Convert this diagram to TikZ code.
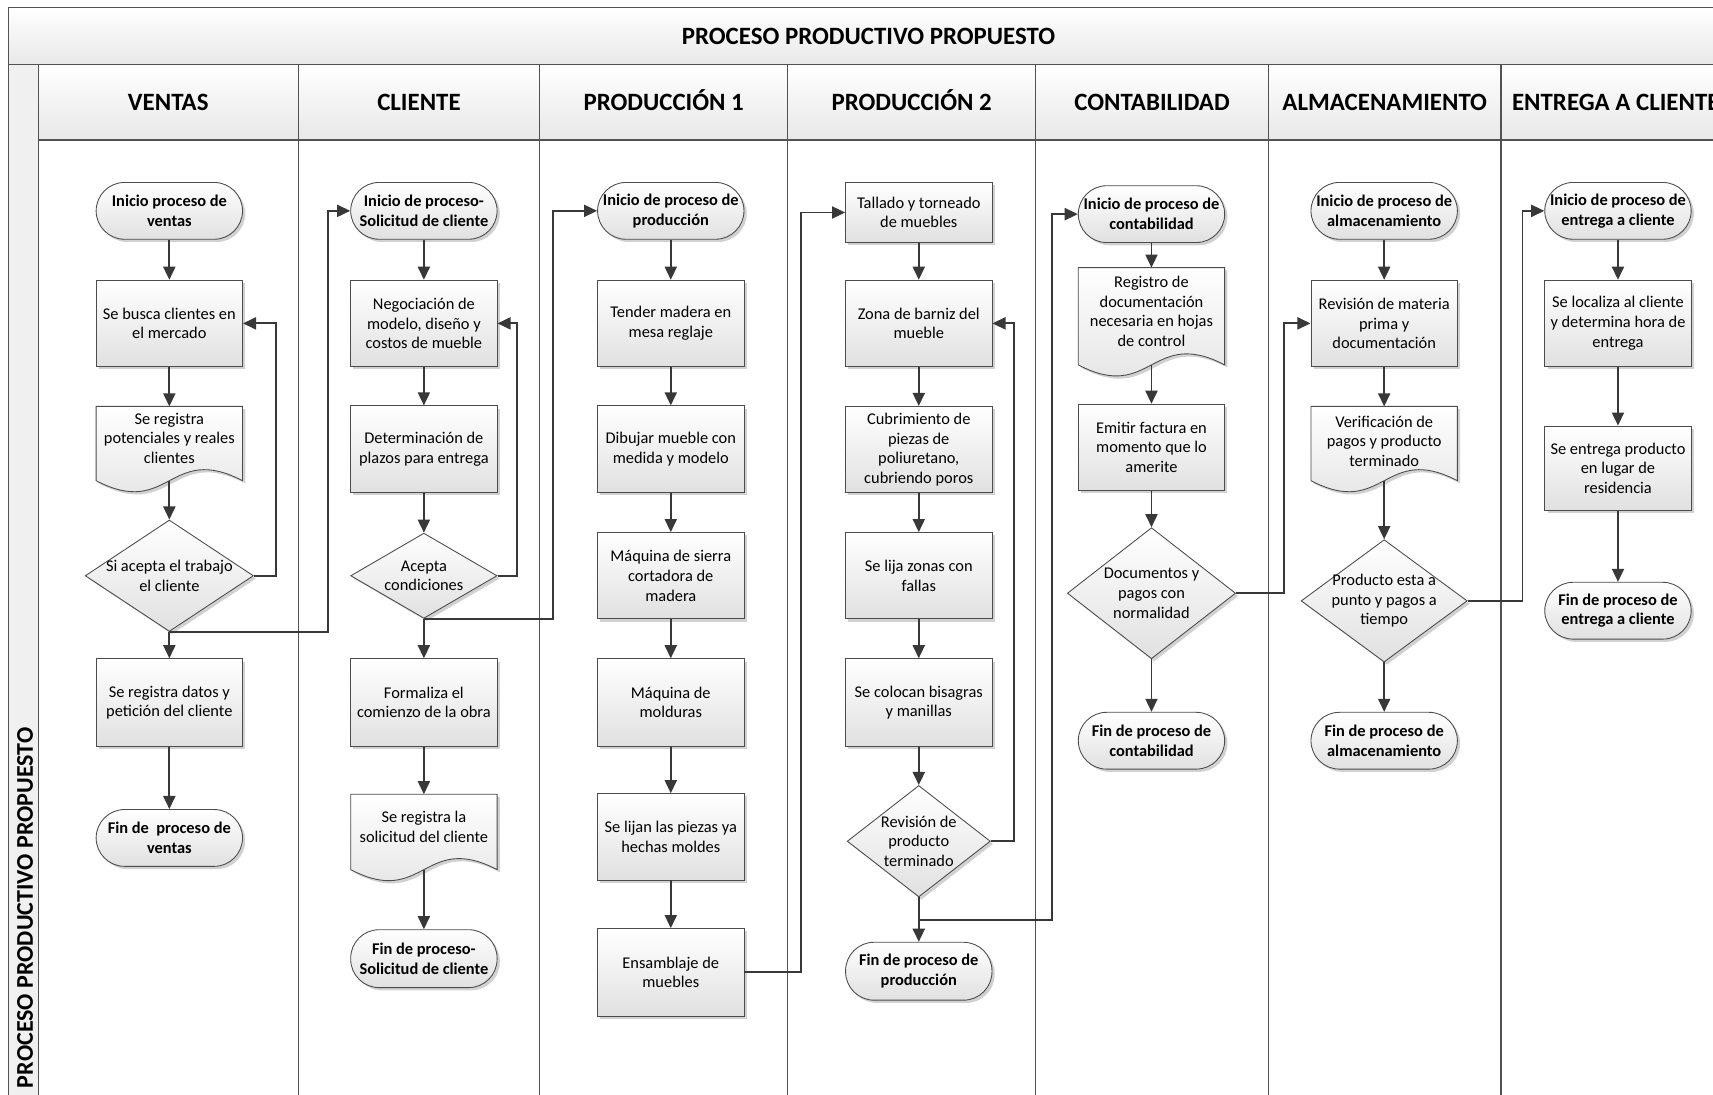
\documentclass[tikz,border=0pt]{standalone}
\usepackage{fontspec}
\setmainfont{Carlito}
\usetikzlibrary{shapes.geometric,arrows.meta,shadows,calc}

\tikzset{
  boxfill/.style={draw=black!70, line width=0.8pt, top color=white, bottom color=black!12,
    drop shadow={shadow xshift=2.5pt, shadow yshift=-2.5pt, fill=black, opacity=0.18}},
  txt/.style={font=\fontsize{15}{18}\selectfont, align=center},
  proc/.style={boxfill, txt, rectangle, minimum width=134pt, minimum height=79pt, inner sep=0pt},
  term/.style={boxfill, txt, rectangle, rounded corners=26pt, minimum width=134pt,
    minimum height=52pt, inner sep=0pt, font=\fontsize{15}{18}\selectfont\bfseries},
  dec/.style={boxfill, diamond, inner sep=0pt},
  doc/.style={rectangle, minimum width=134pt, inner sep=0pt, outer sep=0pt},
  lbl/.style={txt, inner sep=0pt},
  conn/.style={draw=black!78, line width=1.8pt, -{Triangle[length=12pt,width=11pt]}},
  wire/.style={draw=black!78, line width=1.8pt},
  frame/.style={draw=black!68, line width=1.3pt},
  band/.style={top color=white, bottom color=black!9},
  hdr/.style={font=\fontsize{22.8}{27}\selectfont\bfseries, anchor=base},
}
% document symbol: box with a wavy lower edge (centre x, top y, base y)
\newcommand\docshape[3]{\path[boxfill] (#1-67,#2) -- (#1+67,#2) -- (#1+67,#3)
  .. controls (#1,#3-35) and (#1,#3+35) .. (#1-67,#3) -- cycle;}

\begin{document}
\begin{tikzpicture}[x=1pt, y=-1pt]
\useasboundingbox (0,0) rectangle (1568,1002);
\clip (0,0) rectangle (1568,1002);
\fill[white] (0,0) rectangle (1568,1002);

% pool frame, title band, lane headers
\path[band] (8,7) rectangle (1582,59);
\path[band] (35,59) rectangle (1582,128);
\fill[black!6] (8,59) rectangle (35,1120);
\draw[frame] (1582,7) -- (8,7) -- (8,1120);
\draw[frame] (8,59) -- (1582,59);
\draw[frame] (35,59) -- (35,1120);
\draw[frame] (35,128) -- (1582,128);
\foreach \lx in {273,494,721,948,1161,1374} \draw[frame] (\lx,59) -- (\lx,1120);

\node[hdr] (title) at (795,40.5) {PROCESO PRODUCTIVO PROPUESTO};
\node[hdr, rotate=90, font=\fontsize{22}{26}\selectfont\bfseries] (side) at (30,831) {PROCESO PRODUCTIVO PROPUESTO};
\node[hdr] (h1) at (154,101) {VENTAS};
\node[hdr] (h2) at (383.5,101) {CLIENTE};
\node[hdr] (h3) at (607.5,101) {PRODUCCIÓN 1};
\node[hdr] (h4) at (834.5,101) {PRODUCCIÓN 2};
\node[hdr] (h5) at (1054.5,101) {CONTABILIDAD};
\node[hdr] (h6) at (1267.5,101) {ALMACENAMIENTO};
\node[hdr] (h7) at (1479,101) {ENTREGA A CLIENTE};

% ---- VENTAS
\node[term] (vi) at (155,193) {Inicio proceso de\\ventas};
\node[proc] (vb) at (155,296) {Se busca clientes en\\el mercado};
\docshape{155}{372}{440}
\node[doc, minimum height=68pt, label={[lbl,yshift=5pt]center:{Se registra\\potenciales y reales\\clientes}}] (vd) at (155,406) {};
\node[dec, minimum width=154pt, minimum height=102pt, label={[lbl]center:{Si acepta el trabajo\\el cliente}}] (vx) at (155,527) {};
\node[proc, minimum height=80pt] (vr) at (155,643) {Se registra datos y\\petición del cliente};
\node[term] (vf) at (155,767) {Fin de~ proceso de\\ventas};

% ---- CLIENTE
\node[term] (ci) at (388,193) {Inicio de proceso-\\Solicitud de cliente};
\node[proc] (cn) at (388,296) {Negociación de\\modelo, diseño y\\costos de mueble};
\node[proc] (cd) at (388,411) {Determinación de\\plazos para entrega};
\node[dec, minimum width=134pt, minimum height=78pt, label={[lbl]center:{Acepta\\condiciones}}] (cx) at (388,527) {};
\node[proc, minimum height=80pt] (cf) at (388,643) {Formaliza el\\comienzo de la obra};
\docshape{388}{727}{796}
\node[doc, minimum height=69pt, label={[lbl,yshift=4.5pt]center:{Se registra la\\solicitud del cliente}}] (cr) at (388,761.5) {};
\node[term, minimum height=53pt] (ce) at (388,877.5) {Fin de proceso-\\Solicitud de cliente};

% ---- PRODUCCION 1
\node[term] (p1i) at (614,193) {Inicio de proceso de\\producción};
\node[proc] (p1a) at (614,296) {Tender madera en\\mesa reglaje};
\node[proc] (p1b) at (614,411) {Dibujar mueble con\\medida y modelo};
\node[proc] (p1c) at (614,527) {Máquina de sierra\\cortadora de\\madera};
\node[proc, minimum height=80pt] (p1d) at (614,643) {Máquina de\\molduras};
\node[proc] (p1e) at (614,766) {Se lijan las piezas ya\\hechas moldes};
\node[proc, minimum height=80pt] (p1f) at (614,890) {Ensamblaje de\\muebles};

% ---- PRODUCCION 2
\node[proc, minimum height=55pt] (p2a) at (841,194.5) {Tallado y torneado\\de muebles};
\node[proc] (p2b) at (841,296) {Zona de barniz del\\mueble};
\node[proc] (p2c) at (841,411.5) {Cubrimiento de\\piezas de\\poliuretano,\\cubriendo poros};
\node[proc] (p2d) at (841,527) {Se lija zonas con\\fallas};
\node[proc, minimum height=80pt] (p2e) at (841,643) {Se colocan bisagras\\y manillas};
\node[dec, minimum width=131pt, minimum height=102pt, label={[lbl]center:{Revisión de\\producto\\terminado}}] (p2x) at (841,770) {};
\node[term, minimum height=53pt] (p2f) at (841,889) {Fin de proceso de\\producción};

% ---- CONTABILIDAD
\node[term] (ki) at (1054,196) {Inicio de proceso de\\contabilidad};
\docshape{1054}{245}{334}
\node[doc, minimum height=89pt, label={[lbl,yshift=4.5pt]center:{Registro de\\documentación\\necesaria en hojas\\de control}}] (kd) at (1054,289.5) {};
\node[proc] (kf) at (1054,409.5) {Emitir factura en\\momento que lo\\amerite};
\node[dec, minimum width=154pt, minimum height=120pt, label={[lbl]center:{Documentos y\\pagos con\\normalidad}}] (kx) at (1054,543) {};
\node[term] (kz) at (1054,678) {Fin de proceso de\\contabilidad};

% ---- ALMACENAMIENTO
\node[term] (ai) at (1267,193) {Inicio de proceso de\\almacenamiento};
\node[proc] (ab) at (1267,296) {Revisión de materia\\prima y\\documentación};
\docshape{1267}{372}{440}
\node[doc, minimum height=68pt, label={[lbl,yshift=2pt]center:{Verificación de\\pagos y producto\\terminado}}] (ad) at (1267,406) {};
\node[dec, minimum width=152pt, minimum height=112pt, label={[lbl]center:{Producto esta a\\punto y pagos a\\tiempo}}] (ax) at (1267,550) {};
\node[term] (az) at (1267,678) {Fin de proceso de\\almacenamiento};

% ---- ENTREGA A CLIENTE
\node[term] (ei) at (1481,193) {Inicio de proceso de\\entrega a cliente};
\node[proc] (eb) at (1481,296) {Se localiza al cliente\\y determina hora de\\entrega};
\node[proc, minimum height=77pt] (ec) at (1481,428.5) {Se entrega producto\\en lugar de\\residencia};
\node[term] (ez) at (1481,559) {Fin de proceso de\\entrega a cliente};

% ---- flow inside each lane
\draw[conn] (vi) -- (vb);
\draw[conn] (vb) -- (vd);
\draw[conn] (vd) -- (vx);
\draw[conn] (vx) -- (vr);
\draw[conn] (vr) -- (vf);
\draw[conn] (vx.east) -- ++(20,0) |- (vb.east);

\draw[conn] (ci) -- (cn);
\draw[conn] (cn) -- (cd);
\draw[conn] (cd) -- (cx);
\draw[conn] (cx) -- (cf);
\draw[conn] (cf) -- (cr);
\draw[conn] (cr) -- (ce);
\draw[conn] (cx.east) -- ++(18,0) |- (cn.east);

\draw[conn] (p1i) -- (p1a);
\draw[conn] (p1a) -- (p1b);
\draw[conn] (p1b) -- (p1c);
\draw[conn] (p1c) -- (p1d);
\draw[conn] (p1d) -- (p1e);
\draw[conn] (p1e) -- (p1f);

\draw[conn] (p2a) -- (p2b);
\draw[conn] (p2b) -- (p2c);
\draw[conn] (p2c) -- (p2d);
\draw[conn] (p2d) -- (p2e);
\draw[conn] (p2e) -- (p2x);
\draw[conn] (p2x) -- (p2f);
\draw[conn] (p2x.east) -- ++(21,0) |- (p2b.east);

\draw[conn] (ki) -- (kd);
\draw[conn] (kd) -- (kf);
\draw[conn] (kf) -- (kx);
\draw[conn] (kx) -- (kz);

\draw[conn] (ai) -- (ab);
\draw[conn] (ab) -- (ad);
\draw[conn] (ad) -- (ax);
\draw[conn] (ax) -- (az);

\draw[conn] (ei) -- (eb);
\draw[conn] (eb) -- (ec);
\draw[conn] (ec) -- (ez);

% ---- hand-offs between lanes
\draw[conn] (vx.south) -| ($(ci.west)+(-20,0)$) -- (ci.west);
\draw[conn] (cx.south) -| ($(p1i.west)+(-40,0)$) -- (p1i.west);
\draw[conn] (p1f.east) -| ($(p2a.west)+(-40,0)$) -- (p2a.west);
\coordinate (jp) at ($(p2x.south)+(0,21)$);
\draw[conn] (jp) -| ($(ki.west)+(-24,0)$) -- (ki.west);
\draw[conn] (kx.east) -| ($(ab.west)+(-24,0)$) -- (ab.west);
\draw[conn] (ax.east) -| ($(ei.west)+(-20,0)$) -- (ei.west);
\end{tikzpicture}
\end{document}
